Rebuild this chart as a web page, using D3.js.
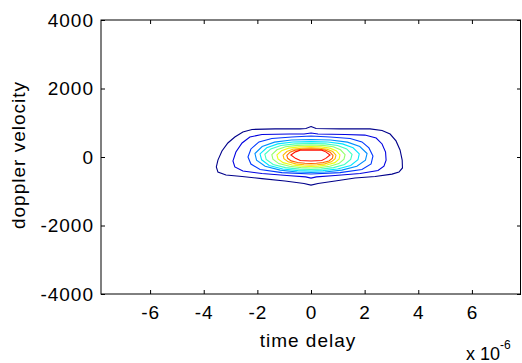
<!DOCTYPE html>
<html>
<head>
<meta charset="utf-8">
<script src="https://cdn.jsdelivr.net/npm/d3@7"></script>
<style>
  body { margin: 0; background: #fff; }
  svg { display: block; font-family: "Liberation Sans", Arial, sans-serif; }
</style>
</head>
<body>
<div id="chart"></div>
<script>
// tick values
const xTicks = [-6, -4, -2, 0, 2, 4, 6];
const yTicks = [-4000, -2000, 0, 2000, 4000];

// contour line colours, outer level first (jet colormap)
const levelColors = ["#00008a", "#0000e0", "#0038ff", "#008fff", "#00e6ff", "#3dffc2",
  "#94ff6b", "#ebff14", "#ffbd00", "#ff6600", "#ff0f00"];

// contour paths, [time delay (x 1e-6), doppler velocity]
const c1 = [[0, 890], [0.19, 830], [1.08, 820], [2.2, 820], [2.65, 775], [2.95, 670], [3.17, 470],
  [3.32, 205], [3.4, -90], [3.41, -320], [3.28, -440], [3.02, -500], [2.39, -570], [1.64, -615],
  [0.9, -700], [0.26, -775], [0, -820], [-0.26, -775], [-0.97, -700], [-1.83, -630], [-2.57, -570],
  [-3.17, -525], [-3.47, -440], [-3.53, -290], [-3.47, -90], [-3.32, 175], [-3.1, 410], [-2.84, 585],
  [-2.54, 730], [-2.2, 805], [-1.34, 820], [-0.41, 820], [-0.19, 830]];
const c2 = [[0, 700], [0.26, 670], [1.27, 655], [2.01, 640], [2.43, 555], [2.65, 380], [2.78, 145],
  [2.8, -90], [2.72, -265], [2.5, -395], [1.83, -480], [0.9, -540], [0.2, -580], [0, -615], [-0.2, -580],
  [-0.9, -540], [-1.83, -480], [-2.54, -410], [-2.84, -290], [-2.91, -115], [-2.8, 145], [-2.57, 410],
  [-2.28, 585], [-1.83, 655], [-0.78, 670], [-0.26, 670]];
const c3 = [[0, 615], [0.71, 585], [1.46, 540], [1.9, 440], [2.16, 265], [2.31, 30], [2.24, -205],
  [1.9, -365], [1.08, -455], [0, -495], [-1.08, -455], [-1.9, -365], [-2.24, -205], [-2.35, 0],
  [-2.24, 235], [-1.94, 440], [-1.46, 540], [-0.71, 585]];
const c4 = [[0, 510], [0.73, 495], [1.36, 434], [1.82, 306], [2.09, 102], [2.03, -90], [1.71, -270],
  [1.15, -383], [0.52, -437], [0, -450], [-0.52, -437], [-1.15, -383], [-1.71, -270], [-2.03, -90],
  [-2.09, 102], [-1.82, 306], [-1.36, 434], [-0.73, 495]];
const c5 = [[0, 450], [0.63, 437], [1.17, 383], [1.57, 270], [1.8, 90], [1.75, -82], [1.48, -246],
  [0.99, -349], [0.45, -398], [0, -410], [-0.48, -398], [-1.05, -349], [-1.56, -246], [-1.84, -82],
  [-1.9, 90], [-1.65, 270], [-1.24, 383], [-0.67, 437]];
const c6 = [[0, 395], [0.54, 383], [0.99, 336], [1.33, 237], [1.53, 79], [1.48, -73], [1.25, -219],
  [0.84, -310], [0.38, -354], [0, -365], [-0.43, -354], [-0.95, -310], [-1.41, -219], [-1.67, -73],
  [-1.72, 79], [-1.5, 237], [-1.12, 336], [-0.6, 383]];
const c7 = [[0, 350], [0.44, 340], [0.83, 298], [1.1, 210], [1.27, 70], [1.23, -64], [1.04, -192],
  [0.7, -272], [0.32, -310], [0, -320], [-0.37, -310], [-0.8, -272], [-1.2, -192], [-1.42, -64],
  [-1.46, 70], [-1.27, 210], [-0.95, 298], [-0.51, 340]];
const c8 = [[0, 305], [0.38, 296], [0.7, 259], [0.94, 183], [1.08, 61], [1.05, -55], [0.89, -165],
  [0.59, -234], [0.27, -267], [0, -275], [-0.32, -267], [-0.7, -234], [-1.04, -165], [-1.23, -55],
  [-1.27, 61], [-1.1, 183], [-0.83, 259], [-0.44, 296]];
const c9 = [[0, 265], [0.33, 257], [0.6, 225], [0.81, 159], [0.93, 53], [0.9, -47], [0.76, -141],
  [0.51, -200], [0.23, -228], [0, -235], [-0.26, -228], [-0.57, -200], [-0.85, -141], [-1.01, -47],
  [-1.04, 53], [-0.9, 159], [-0.68, 225], [-0.36, 257]];
const c10 = [[0, 235], [0.29, 228], [0.53, 200], [0.71, 141], [0.82, 47], [0.8, -38], [0.67, -114],
  [0.45, -162], [0.2, -184], [0, -190], [-0.23, -184], [-0.5, -162], [-0.74, -114], [-0.87, -38],
  [-0.9, 47], [-0.78, 141], [-0.59, 200], [-0.32, 228]];
const c11 = [[0, 205], [0.4, 200], [0.55, 150], [0.71, 60], [0.55, -40], [0.4, -100], [0, -115],
  [-0.4, -100], [-0.58, -40], [-0.75, 60], [-0.58, 150], [-0.4, 200]];

const contours = [c1, c2, c3, c4, c5, c6, c7, c8, c9, c10, c11];

const width = 522;
const height = 363;
const margin = { left: 101, right: 1, top: 20, bottom: 69 };

const svg = d3
  .select("#chart")
  .append("svg")
  .attr("width", width)
  .attr("height", height);

const x = d3.scaleLinear().domain([-7.83, 7.83]).range([margin.left, width - margin.right]);
const y = d3.scaleLinear().domain([-4000, 4000]).range([height - margin.bottom, margin.top]);

const line = d3
  .line()
  .x((d) => x(d[0]))
  .y((d) => y(d[1]))
  .curve(d3.curveLinearClosed);

// contour lines
svg.append("g")
  .selectAll("path")
  .data(contours)
  .enter()
  .append("path")
  .attr("d", (d) => line(d))
  .attr("fill", "none")
  .attr("stroke", (d, i) => levelColors[i])
  .attr("stroke-width", 1.1);

// axes, ticks pointing inwards on all four sides
const fontSize = "19px";
const plain = (d) => String(d);

const xAxis = d3.axisBottom(x).tickValues(xTicks).tickFormat(plain)
  .tickSizeInner(-4).tickSizeOuter(0).tickPadding(12);
svg.append("g")
  .attr("transform", `translate(0, ${y(-4000)})`)
  .call(xAxis);

const xTop = d3.axisTop(x).tickValues(xTicks).tickSizeInner(-4).tickSizeOuter(0).tickFormat("");
svg.append("g")
  .attr("transform", `translate(0, ${y(4000)})`)
  .call(xTop);

const yAxis = d3.axisLeft(y).tickValues(yTicks).tickFormat(plain)
  .tickSizeInner(-4).tickSizeOuter(0).tickPadding(7);
svg.append("g")
  .attr("transform", `translate(${x(-7.83)}, 0)`)
  .call(yAxis);

const yRight = d3.axisRight(y).tickValues(yTicks).tickSizeInner(-4).tickSizeOuter(0).tickFormat("");
svg.append("g")
  .attr("transform", `translate(${x(7.83)}, 0)`)
  .call(yRight);

svg.selectAll(".domain").remove();
svg.selectAll(".tick line").attr("stroke", "#000");
svg.selectAll(".tick text")
  .attr("fill", "#000")
  .style("font-size", fontSize)
  .style("letter-spacing", "1px")
  .style("font-family", '"Liberation Sans", Arial, sans-serif');

// box
svg.append("rect")
  .attr("x", x(-7.83))
  .attr("y", y(4000))
  .attr("width", x(7.83) - x(-7.83) - 0.5)
  .attr("height", y(-4000) - y(4000))
  .attr("fill", "none")
  .attr("stroke", "#000")
  .attr("stroke-width", 1);

// labels
svg.append("text")
  .attr("x", x(0) - 3)
  .attr("y", 347)
  .attr("text-anchor", "middle")
  .style("font-size", fontSize)
  .style("letter-spacing", "1px")
  .text("time delay");

svg.append("text")
  .attr("transform", `translate(25, ${y(0) - 2}) rotate(-90)`)
  .attr("text-anchor", "middle")
  .style("font-size", fontSize)
  .style("letter-spacing", "1px")
  .text("doppler velocity");

const expo = svg.append("text")
  .attr("x", 466)
  .attr("y", 360)
  .style("font-size", "18px");
expo.append("tspan").text("x 10");
expo.append("tspan")
  .attr("dy", -11)
  .style("font-size", "12px")
  .text("-6");
</script>
</body>
</html>
